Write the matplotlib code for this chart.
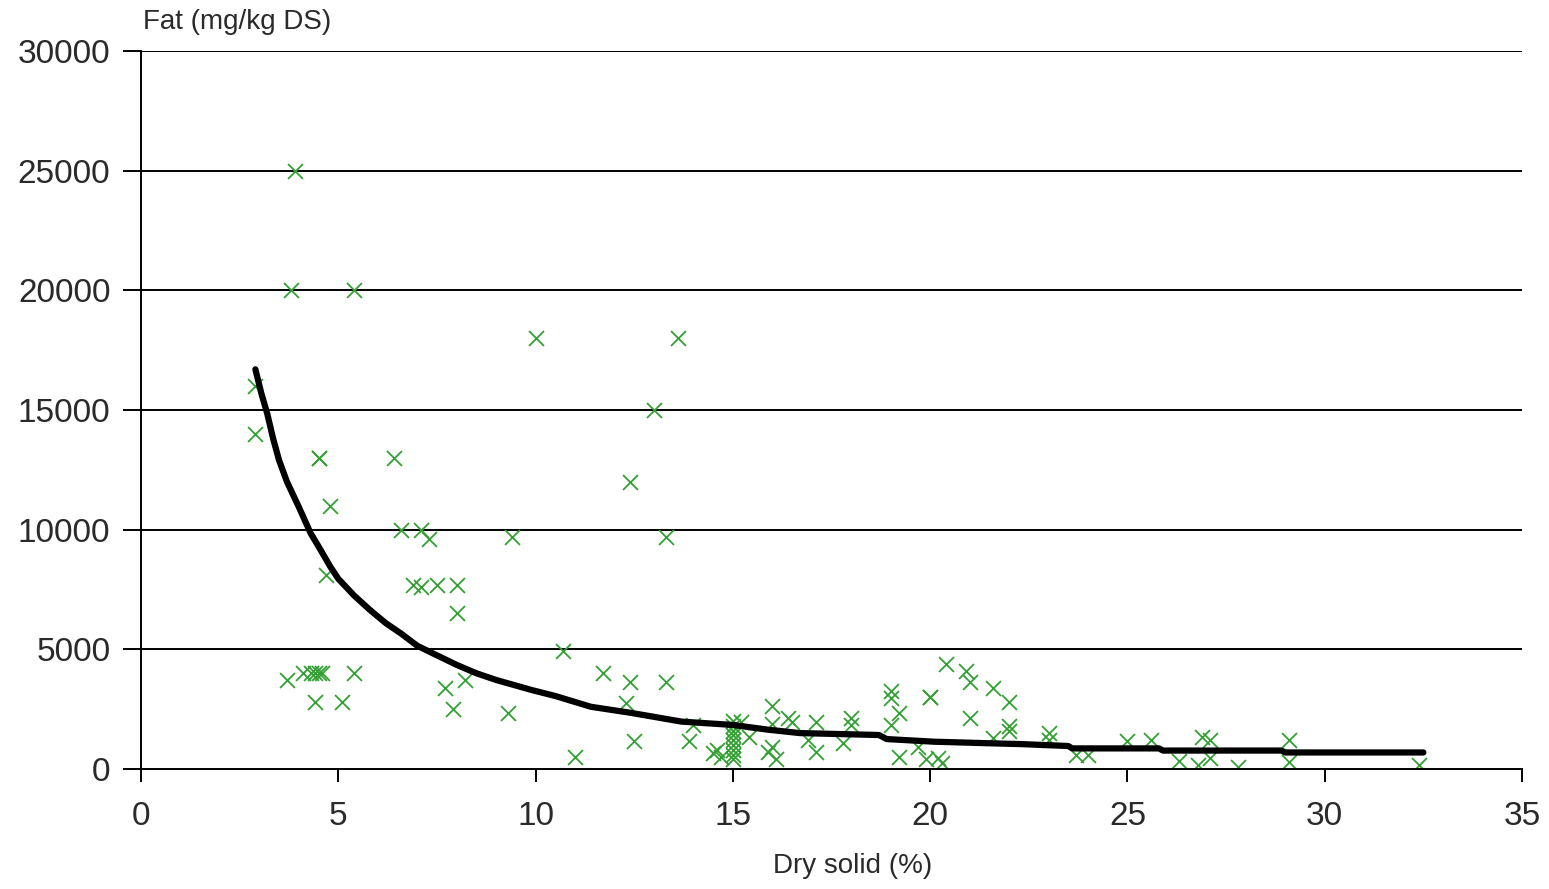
import matplotlib
matplotlib.use("Agg")
import matplotlib.pyplot as plt

plt.rcParams['font.family'] = ['Liberation Sans', 'DejaVu Sans']

# measured samples: dry solid (%) vs fat (mg/kg DS)
dry_solid = [
    3.9, 3.8, 5.4, 10.0, 13.6, 2.9, 13.0, 2.9, 4.5, 4.5, 6.4, 12.4, 4.8,
    6.6, 7.1, 7.3, 9.4, 13.3, 6.9, 7.1, 7.5, 8.0, 8.0, 4.7,
    10.7, 11.7, 12.4, 13.3, 7.7, 8.2, 7.9, 9.3, 12.3, 12.5, 11.0, 13.9, 14.0,
    3.7, 4.1, 4.3, 4.4, 4.5, 4.6, 5.4, 4.4, 5.1,
    14.5, 14.6, 14.7, 15.0, 15.0, 15.0, 15.0, 15.0, 15.0, 15.0, 15.0, 15.0,
    15.2, 15.4, 15.9, 16.0, 16.1, 16.0, 16.0, 16.4, 16.5, 17.1, 16.9, 17.1,
    18.0, 18.0, 17.8, 19.0, 19.0, 19.2, 19.0, 20.0, 20.0, 20.4, 20.9, 21.0,
    21.0, 21.6, 22.0, 22.0, 22.0, 21.6, 19.2, 19.7, 19.9, 20.2, 20.3,
    23.0, 23.0, 23.7, 24.0, 25.0, 25.6, 26.3, 26.9, 27.1, 27.1, 26.8, 27.8,
    29.1, 29.1, 32.4,
]
fat = [
    25000, 20000, 20000, 18000, 18000, 16000, 15000, 14000, 13000, 13000, 13000, 12000, 11000,
    10000, 10000, 9600, 9700, 9700, 7700, 7600, 7700, 7700, 6500, 8100,
    4950, 4000, 3650, 3650, 3400, 3700, 2500, 2350, 2750, 1150, 500, 1150, 1850,
    3700, 4000, 4000, 4000, 4000, 4000, 4000, 2800, 2800,
    650, 800, 500, 400, 600, 800, 1000, 1200, 1400, 1600, 1800, 2000,
    1950, 1350, 700, 900, 400, 2650, 1900, 2150, 1950, 1950, 1200, 700,
    2150, 1850, 1100, 3250, 2950, 2350, 1850, 3000, 3000, 4400, 4100, 3650,
    2150, 3400, 2800, 1800, 1600, 1300, 500, 900, 400, 450, 250,
    1500, 1200, 600, 600, 1150, 1200, 350, 1350, 1200, 450, 150, 80,
    1200, 300, 170,
]

# fitted trend line
trend_x = [2.9, 3.05, 3.2, 3.35, 3.5, 3.7, 4.0, 4.3, 4.5, 4.8, 5.0, 5.4, 5.8, 6.2,
           6.6, 7.0, 7.5, 8.0, 8.5, 9.0, 9.9, 10.5, 11.4, 12.4,
           13.7, 15.0, 15.9, 16.7, 18.7, 18.9, 20.1, 21.6, 22.3, 23.5, 23.6,
           25.8, 25.9, 28.9, 29.0, 32.5]
trend_y = [16700, 15700, 14850, 13800, 12900, 12000, 10950, 9850, 9300, 8450, 7950, 7250, 6650, 6100,
           5650, 5150, 4750, 4350, 4000, 3720, 3300, 3050, 2600, 2350,
           1980, 1840, 1640, 1500, 1420, 1250, 1140, 1070, 1040, 960, 860,
           860, 770, 770, 690, 690]

x_ticks = [0, 5, 10, 15, 20, 25, 30, 35]
y_ticks = [0, 5000, 10000, 15000, 20000, 25000, 30000]

fig = plt.figure(figsize=(15.49, 8.89), dpi=100)
ax = fig.add_axes([0.091, 0.135, 0.8916, 0.8076])

for yv in y_ticks[1:]:
    ax.axhline(yv, color='black', lw=1.4, zorder=1)

ax.scatter(dry_solid, fat, marker='x', s=115, color='#33a033', linewidths=1.3, zorder=2)
ax.plot(trend_x, trend_y, color='black', lw=4.5, solid_capstyle='round',
        solid_joinstyle='round', zorder=3)

ax.set_xlim(0, 35)
ax.set_ylim(0, 30000)
ax.set_xticks(x_ticks)
ax.set_yticks(y_ticks)
ax.set_xticklabels([str(v) for v in x_ticks])
ax.set_yticklabels([str(v) for v in y_ticks])

for side in ['top', 'right']:
    ax.spines[side].set_visible(False)
for side in ['left', 'bottom']:
    ax.spines[side].set_linewidth(1.4)

ax.tick_params(axis='y', direction='out', length=13, width=1.4, pad=9, labelsize=24,
               color='black', labelcolor='#2a2a2a')
ax.tick_params(axis='x', direction='out', length=9, width=1.4, pad=14, labelsize=24,
               color='black', labelcolor='#2a2a2a')

fig.text(143 / 1549, 1 - 22 / 889, 'Fat (mg/kg DS)', fontsize=20, ha='left', va='center', color='#2a2a2a')
fig.text(853 / 1549, 1 - 866 / 889, 'Dry solid (%)', fontsize=20, ha='center', va='center', color='#2a2a2a')

fig.savefig('out.png', dpi=100)
